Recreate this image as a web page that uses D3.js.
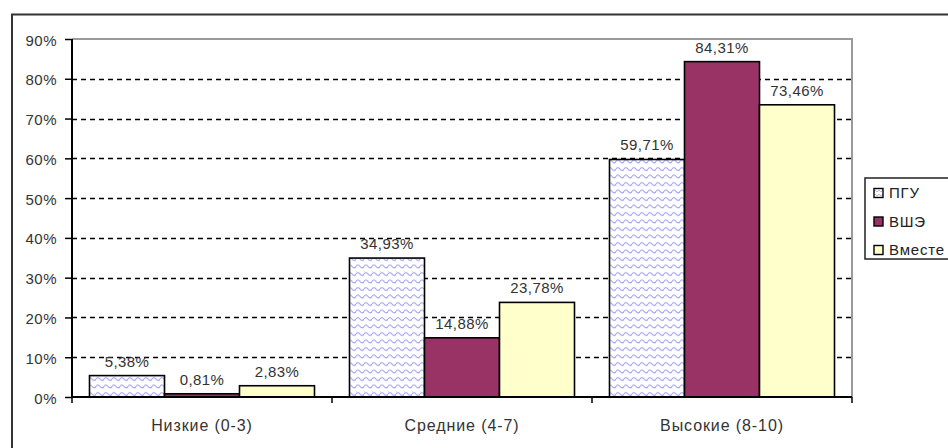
<!DOCTYPE html>
<html><head><meta charset="utf-8">
<script src="https://cdn.jsdelivr.net/npm/d3@7"></script>
<style>
html,body{margin:0;padding:0;background:#fff;}
svg{display:block;font-family:"Liberation Sans",Arial,sans-serif;}
</style></head>
<body>
<svg id="c" width="948" height="448"></svg>
<script>
const categories = ["Низкие (0-3)", "Средние (4-7)", "Высокие (8-10)"];
const seriesNames = ["ПГУ", "ВШЭ", "Вместе"];
const pguValues = [5.38, 34.93, 59.71];
const vsheValues = [0.81, 14.88, 84.31];
const vmesteValues = [2.83, 23.78, 73.46];
const yTicks = [0, 10, 20, 30, 40, 50, 60, 70, 80, 90];

const seriesValues = [pguValues, vsheValues, vmesteValues];
const fills = ["url(#wave)", "#993366", "#FFFFCC"];
const legendFills = ["url(#waveSmall)", "#993366", "#FFFFCC"];

const svg = d3.select("#c");
const defs = svg.append("defs");
const pat = defs.append("pattern").attr("id","wave").attr("patternUnits","userSpaceOnUse")
  .attr("width",8).attr("height",7.5);
pat.append("rect").attr("width",8).attr("height",7.5).attr("fill","#fff");
pat.append("path").attr("d","M0,4 Q2,1.2 4,4 T8,4").attr("fill","none").attr("stroke","#8f8ff5").attr("stroke-width",1);
const pat2 = defs.append("pattern").attr("id","waveSmall").attr("patternUnits","userSpaceOnUse")
  .attr("width",4).attr("height",4);
pat2.append("rect").attr("width",4).attr("height",4).attr("fill","#fff");
pat2.append("path").attr("d","M0,2 Q1,0.5 2,2 T4,2").attr("fill","none").attr("stroke","#9a9af5").attr("stroke-width",0.8);

// outer chart frame
svg.append("rect").attr("x",12).attr("y",14.5).attr("width",960).attr("height",460)
  .attr("fill","#fff").attr("stroke","#333").attr("stroke-width",2);

const L = 72, R = 852, T = 39, B = 397;
const x0 = d3.scaleBand().domain(categories).range([L, R]);
const x1 = d3.scaleBand().domain(seriesNames).range([17.5, x0.bandwidth() - 17.5]);
const y = d3.scaleLinear().domain([0, 90]).range([B, T]);

// gridlines
svg.append("g").selectAll("line").data(yTicks.filter(t => t > 0 && t < 90)).join("line")
  .attr("x1", L).attr("x2", R).attr("y1", d => Math.round(y(d)) + 0.5).attr("y2", d => Math.round(y(d)) + 0.5)
  .attr("stroke", "#000").attr("stroke-width", 1.3).attr("stroke-dasharray", "5,4");

// plot border top/right gray
svg.append("path").attr("d", `M${L},${T}H${R}V${B}`).attr("fill","none").attr("stroke","#9a9a9a").attr("stroke-width",2);

// bars
const groups = svg.append("g").selectAll("g").data(categories).join("g")
  .attr("transform", d => `translate(${x0(d)},0)`);
groups.selectAll("rect").data((d, i) => seriesNames.map((s, j) => ({s, j, v: seriesValues[j][i]}))).join("rect")
  .attr("x", d => x1(d.s)).attr("width", x1.bandwidth())
  .attr("y", d => y(d.v)).attr("height", d => B - y(d.v))
  .attr("fill", d => fills[d.j]).attr("stroke", "#000").attr("stroke-width", 1.6);

// value labels
const fmt = v => v.toFixed(2).replace(".", ",") + "%";
groups.selectAll("text").data((d, i) => seriesNames.map((s, j) => ({s, j, v: seriesValues[j][i]}))).join("text")
  .attr("x", d => x1(d.s) + x1.bandwidth() / 2).attr("y", d => y(d.v) - 9)
  .attr("text-anchor", "middle").attr("font-size", 15).attr("letter-spacing", 0.4)
  .attr("fill", "#333").text(d => fmt(d.v));

// y axis
const yAxis = d3.axisLeft(y).tickValues(yTicks).tickFormat(d => d + "%").tickSize(7).tickPadding(8);
const ya = svg.append("g").attr("transform", `translate(${L},0)`).call(yAxis);
ya.select(".domain").attr("stroke","#000").attr("stroke-width",2).attr("d", `M0,${T}V${B}`);
ya.selectAll(".tick line").attr("stroke","#000").attr("stroke-width",1.5);
ya.selectAll(".tick text").attr("font-size",15).attr("letter-spacing",0.5).attr("fill","#333")
  .attr("font-family","Liberation Sans, Arial, sans-serif").attr("dy","0.4em");

// x axis
const xa = svg.append("g").attr("transform", `translate(0,${B})`)
  .call(d3.axisBottom(x0).tickSize(0).tickPadding(23));
xa.select(".domain").attr("stroke","#000").attr("stroke-width",2).attr("d", `M${L},0H${R}`);
xa.selectAll(".tick text").attr("font-size",16).attr("letter-spacing",0.9).attr("fill","#333")
  .attr("font-family","Liberation Sans, Arial, sans-serif");
const bounds = [L, ...categories.map(c => x0(c) + x0.bandwidth())];
xa.selectAll(".sep").data(bounds).join("line").attr("class","sep")
  .attr("x1", d => d).attr("x2", d => d).attr("y1", 0).attr("y2", 6)
  .attr("stroke","#000").attr("stroke-width",1.5);

// legend
const lg = svg.append("g");
lg.append("rect").attr("x",865).attr("y",178).attr("width",120).attr("height",81)
  .attr("fill","#fff").attr("stroke","#222").attr("stroke-width",1.5);
const items = lg.selectAll("g").data(seriesNames).join("g")
  .attr("transform", (d, i) => `translate(874,${193 + i * 28.5})`);
items.append("rect").attr("x",0).attr("y",-4.5).attr("width",9).attr("height",9)
  .attr("fill", (d, i) => legendFills[i]).attr("stroke","#000").attr("stroke-width",1.4);
items.append("text").attr("x",15).attr("y",0).attr("dy","0.36em")
  .attr("font-size",15).attr("letter-spacing",0.8).attr("fill","#222").text(d => d);
</script>
</body></html>
